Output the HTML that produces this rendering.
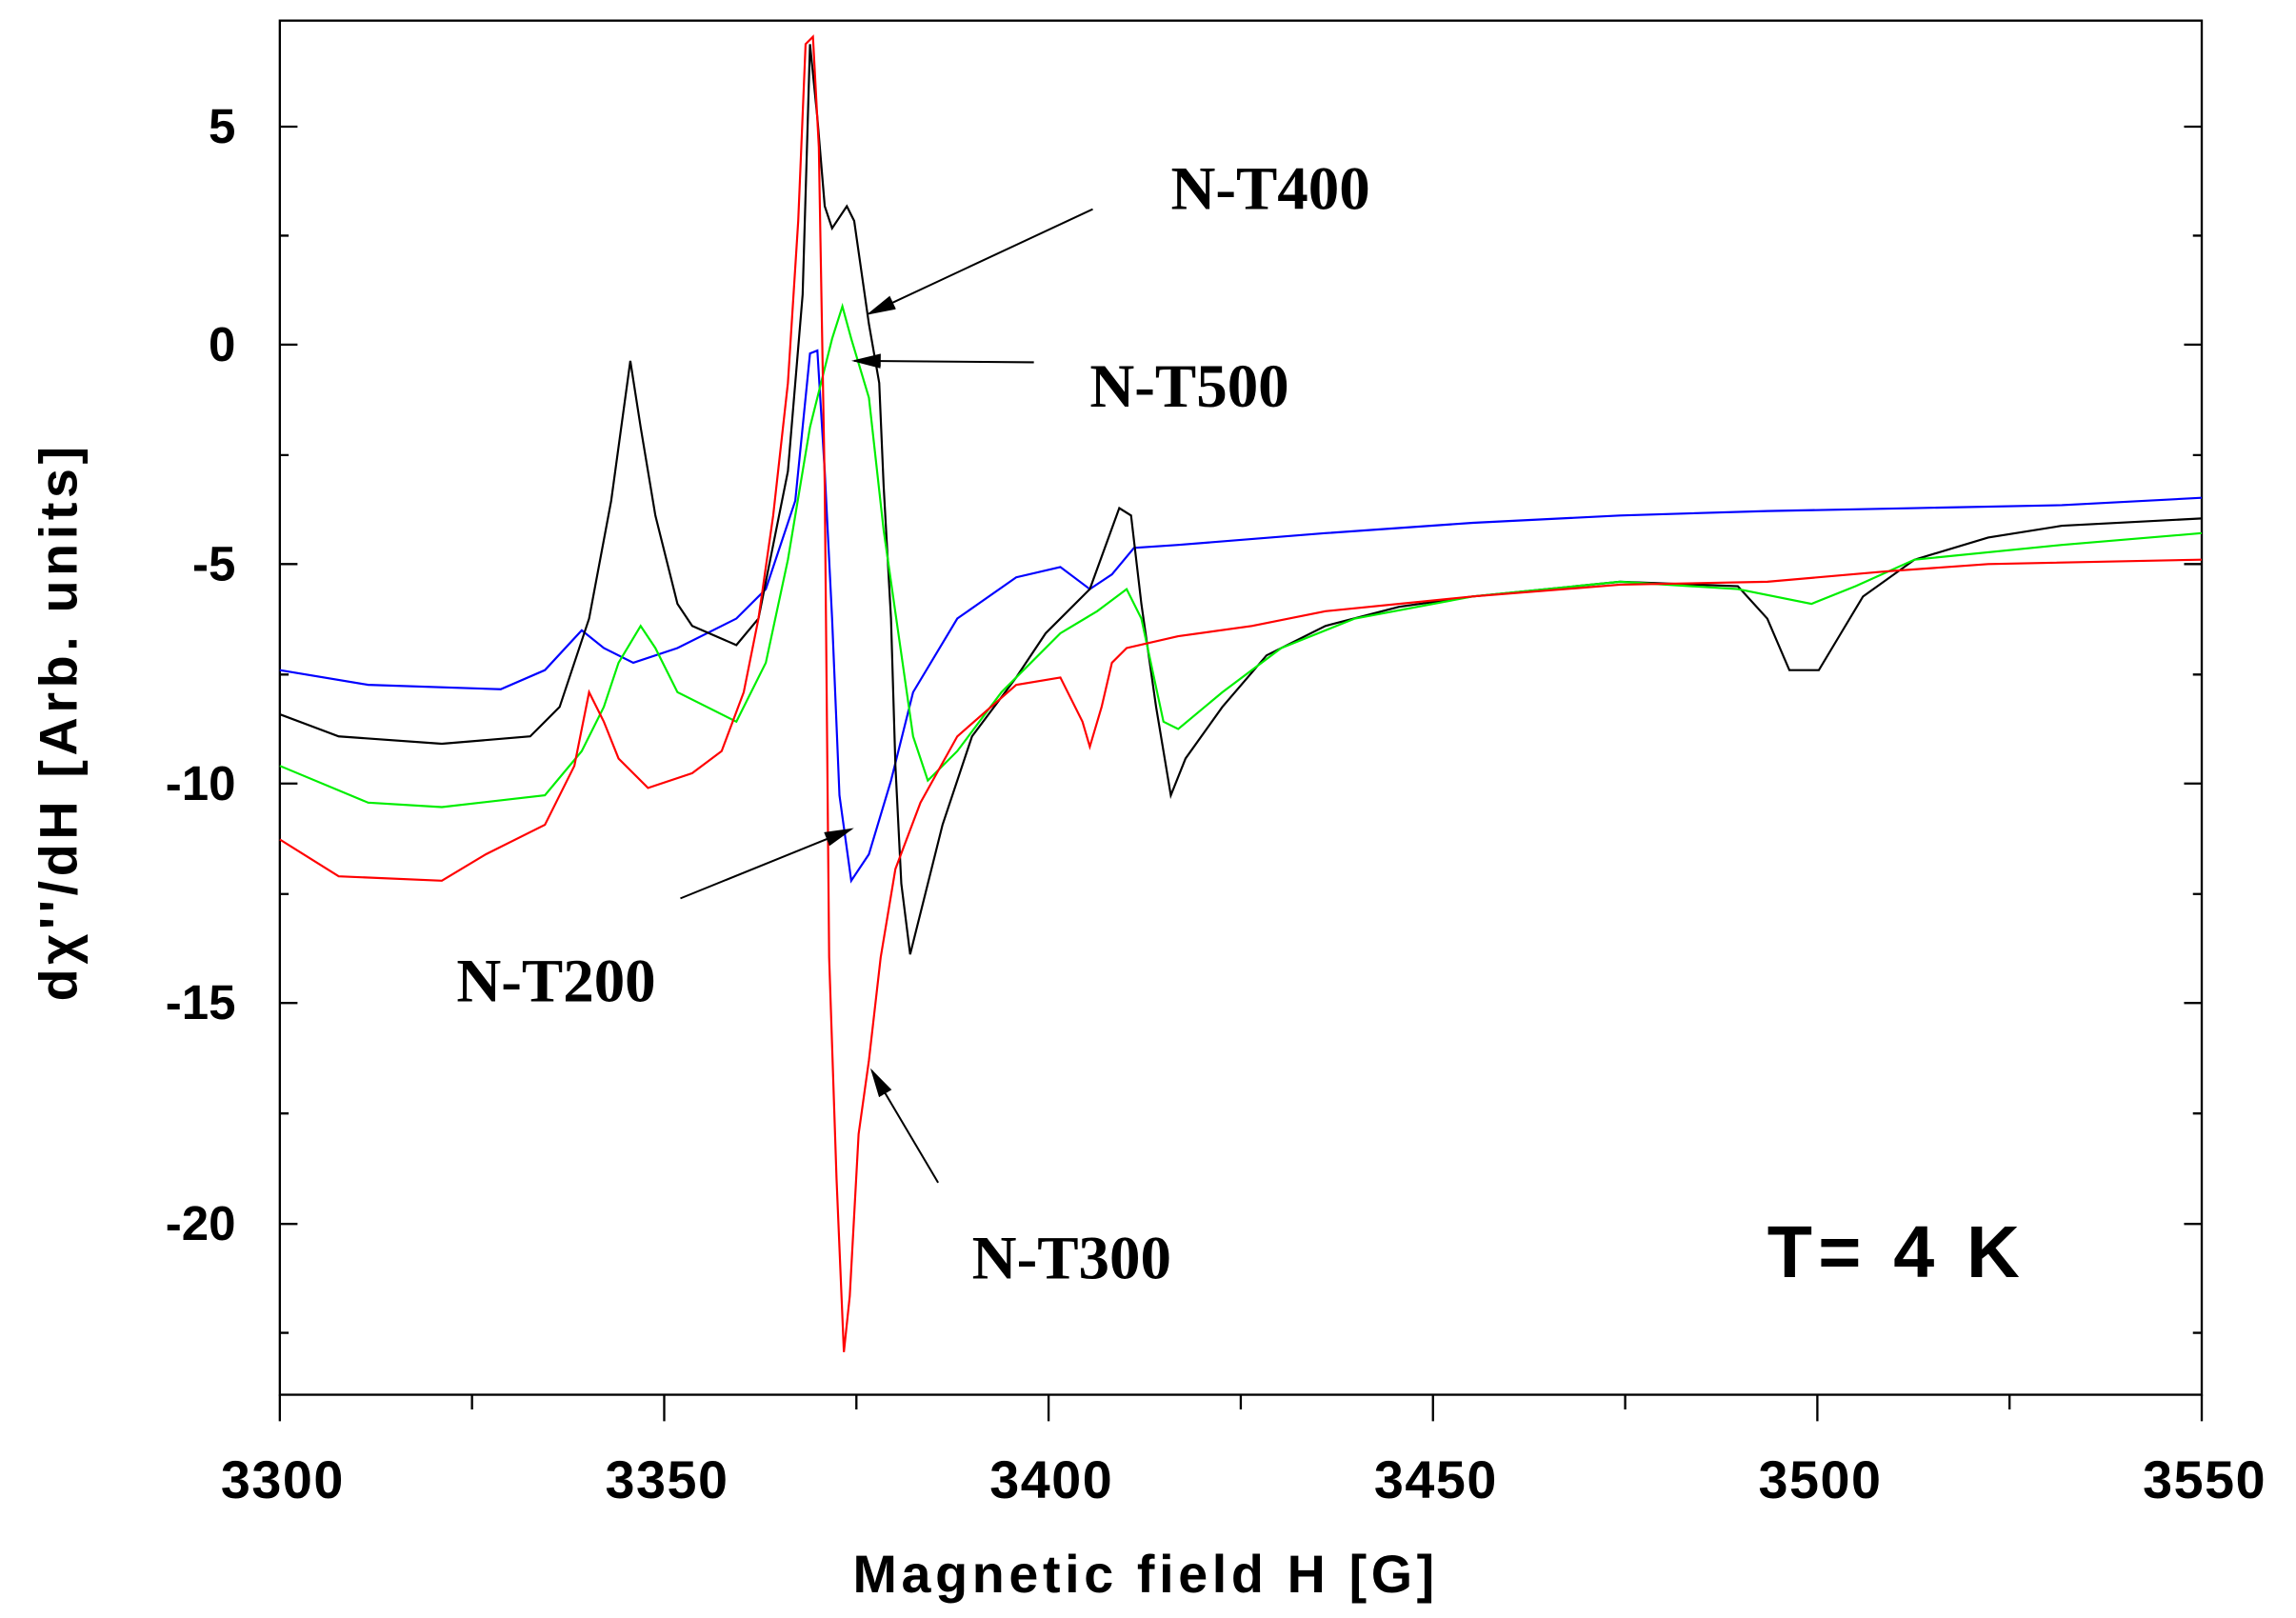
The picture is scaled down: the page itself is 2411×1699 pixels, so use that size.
<!DOCTYPE html>
<html><head><meta charset="utf-8"><style>
html,body{margin:0;padding:0;background:#fff;}
svg{display:block;}
</style></head><body>
<svg width="2411" height="1699" viewBox="0 0 1559 1098.6" preserveAspectRatio="none" xmlns="http://www.w3.org/2000/svg">
<rect width="1559" height="1099" fill="#fff"/>
<g stroke="#000" stroke-width="1.5" fill="none">
<rect x="190" y="14" width="1305" height="933"/>
<path d="M190 86h12M190 234h12M190 383h12M190 532h12M190 681h12M190 831h12M1495 86h-12M1495 234h-12M1495 383h-12M1495 532h-12M1495 681h-12M1495 831h-12"/>
<path d="M190 160h6M190 309h6M190 458h6M190 607h6M190 756h6M190 905h6M1495 160h-6M1495 309h-6M1495 458h-6M1495 607h-6M1495 756h-6M1495 905h-6"/>
<path d="M190 947v18M451 947v18M712 947v18M973 947v18M1234 947v18M1495 947v18M320.5 947v10M581.5 947v10M842.5 947v10M1103.5 947v10M1364.5 947v10"/>
</g>
<g font-family="Liberation Sans, sans-serif" font-weight="bold" font-size="33" fill="#000">
<g text-anchor="end">
<text x="160" y="97">5</text><text x="160" y="245">0</text><text x="160" y="394">-5</text>
<text x="160" y="543">-10</text><text x="160" y="692">-15</text><text x="160" y="842">-20</text>
</g>
<g text-anchor="middle">
<text x="192" y="1017" font-size="36" letter-spacing="1">3300</text><text x="453" y="1017" font-size="36" letter-spacing="1">3350</text><text x="714" y="1017" font-size="36" letter-spacing="1">3400</text>
<text x="975" y="1017" font-size="36" letter-spacing="1">3450</text><text x="1236" y="1017" font-size="36" letter-spacing="1">3500</text><text x="1497" y="1017" font-size="36" letter-spacing="1">3550</text>
<text x="778" y="1081" font-size="36" letter-spacing="3">Magnetic field H [G]</text>
<text transform="translate(52,490) rotate(-90)" font-size="36" letter-spacing="3">dχ''/dH [Arb. units]</text>
</g>
<text x="1200" y="867" font-size="50" letter-spacing="4">T= 4 K</text>
</g>
<g fill="none" stroke-width="1.4">
<polyline stroke="#0000ff" points="190,455 250,465 340,468 370,455 395,428 410,440 430,450 460,440 500,420 520,400 540,340 550,240 555,238 560,320 565,420 570,540 578,598 590,580 605,530 620,470 650,420 690,392 720,385 740,400 755,390 770,372 800,370 900,362 1000,355 1100,350 1200,347 1300,345 1400,343 1495,338"/>
<polyline stroke="#000" points="190,485 230,500 300,505 360,500 380,480 400,420 415,340 428,245 435,290 445,350 460,410 470,425 500,438 515,420 525,370 535,320 545,200 550,30 555,80 560,140 565,155 575,140 580,150 590,220 597,260 600,330 605,420 608,520 612,600 618,648 625,620 640,560 660,500 690,460 710,430 740,400 760,345 768,350 775,410 785,480 795,540 805,515 830,480 860,445 900,425 950,412 1000,405 1100,395 1180,398 1200,420 1215,455 1235,455 1250,430 1265,405 1300,380 1350,365 1400,357 1495,352"/>
<polyline stroke="#00ee00" points="190,520 250,545 300,548 370,540 395,510 410,480 420,450 435,425 445,440 460,470 500,490 520,450 535,380 550,290 565,230 572,208 578,230 590,270 600,360 610,430 620,500 630,530 650,510 680,470 720,430 745,415 765,400 775,420 790,490 800,495 830,470 870,440 920,420 1000,405 1100,395 1180,400 1230,410 1260,398 1300,380 1400,370 1495,362"/>
<polyline stroke="#ff0000" points="190,570 230,595 300,598 330,580 370,560 390,520 400,470 410,490 420,515 440,535 470,525 490,510 505,470 515,420 525,350 535,260 542,150 547,30 552,25 556,100 560,330 563,650 568,800 573,918 577,880 583,770 590,720 598,650 608,590 625,545 650,500 690,465 720,460 735,490 740,507 748,480 755,450 765,440 800,432 850,425 900,415 1000,405 1100,397 1200,395 1280,388 1350,383 1495,380"/>
</g>
<defs><marker id="a" markerWidth="20" markerHeight="10" refX="18" refY="5" orient="auto" markerUnits="userSpaceOnUse"><path d="M0,0 L20,5 L0,10z" fill="#000"/></marker></defs>
<g stroke="#000" stroke-width="1.3">
<line x1="742" y1="142" x2="590" y2="213" marker-end="url(#a)"/>
<line x1="702" y1="246" x2="580" y2="245" marker-end="url(#a)"/>
<line x1="462" y1="610" x2="578" y2="563" marker-end="url(#a)"/>
<line x1="637" y1="803" x2="592" y2="727" marker-end="url(#a)"/>
</g>
<g font-family="Liberation Serif, serif" font-weight="bold" font-size="42" fill="#000">
<text x="795" y="142">N-T400</text>
<text x="740" y="276">N-T500</text>
<text x="310" y="680">N-T200</text>
<text x="660" y="868">N-T300</text>
</g>
</svg>
</body></html>
